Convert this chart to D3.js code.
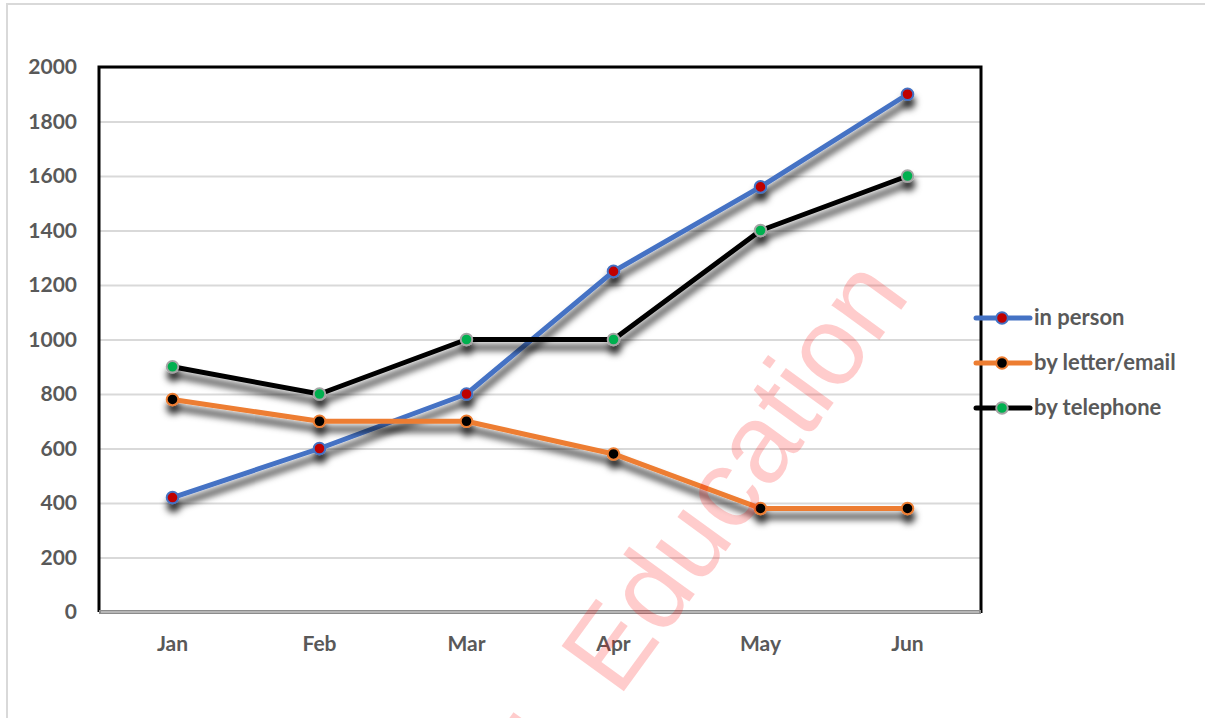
<!doctype html>
<meta charset="utf-8">
<style>
  body { margin: 0; background: #fff; }
  svg { display: block; }
  .tick text, .lbl { font-family: Lato, "Open Sans", sans-serif; font-weight: bold; fill: #595959; }
</style>
<svg id="chart" width="1205" height="718"></svg>
<script src="https://d3js.org/d3.v7.min.js"></script>
<script>
  const months = ["Jan", "Feb", "Mar", "Apr", "May", "Jun"];
  const yTicks = [0, 200, 400, 600, 800, 1000, 1200, 1400, 1600, 1800, 2000];
  const inPerson = [420, 600, 800, 1250, 1560, 1900];
  const letterEmail = [780, 700, 700, 580, 380, 380];
  const telephone = [900, 800, 1000, 1000, 1400, 1600];
  const seriesNames = ["in person", "by letter/email", "by telephone"];

  const series = [
    { name: seriesNames[0], values: inPerson, line: "#4472c4", fill: "#c00000", ring: "#4472c4" },
    { name: seriesNames[1], values: letterEmail, line: "#ed7d31", fill: "#000000", ring: "#ed7d31" },
    { name: seriesNames[2], values: telephone, line: "#000000", fill: "#00b050", ring: "#a5a5a5" }
  ];

  const svg = d3.select("#chart");
  const plotL = 99, plotR = 981, plotT = 67, plotB = 612;

  const x = d3.scaleBand().domain(months).range([plotL, plotR]);
  const y = d3.scaleLinear().domain([0, 2000]).range([plotB, plotT]);

  // outer light border
  svg.append("path").attr("d", "M7,718 V4 H1205")
    .attr("fill", "none").attr("stroke", "#d9d9d9").attr("stroke-width", 2);

  const defs = svg.append("defs");
  defs.append("filter").attr("id", "shadow")
    .attr("x", "-10%").attr("y", "-10%").attr("width", "120%").attr("height", "130%")
    .append("feDropShadow")
    .attr("dx", 1).attr("dy", 8).attr("stdDeviation", 3.5)
    .attr("flood-color", "#000").attr("flood-opacity", 0.85);

  // gridlines
  svg.append("g")
    .attr("transform", `translate(${plotL},0)`)
    .call(d3.axisLeft(y).tickValues(yTicks).tickSize(-(plotR - plotL)).tickFormat(""))
    .call(g => g.select(".domain").remove())
    .call(g => g.selectAll("line").attr("stroke", "#d9d9d9").attr("stroke-width", 2));

  // y labels
  svg.append("g")
    .attr("transform", `translate(${plotL},0)`)
    .call(d3.axisLeft(y).tickValues(yTicks).tickSize(0).tickPadding(22).tickFormat(d3.format("d")))
    .call(g => g.select(".domain").remove())
    .call(g => g.selectAll("text").style("font-size", "21px"));

  // x labels
  svg.append("g")
    .attr("transform", `translate(0,${plotB})`)
    .call(d3.axisBottom(x).tickSize(0).tickPadding(24))
    .call(g => g.select(".domain").remove())
    .call(g => g.selectAll("text").style("font-size", "21px"));

  // frame
  svg.append("path")
    .attr("d", `M${plotL},${plotB} V${plotT} H${plotR} V${plotB + 1}`)
    .attr("fill", "none").attr("stroke", "#000").attr("stroke-width", 3);

  // x axis double line
  svg.append("line").attr("x1", plotL).attr("x2", plotR).attr("y1", plotB).attr("y2", plotB)
    .attr("stroke", "#8c8c8c").attr("stroke-width", 4);
  svg.append("line").attr("x1", plotL + 2).attr("x2", plotR - 2).attr("y1", plotB).attr("y2", plotB)
    .attr("stroke", "#e0e0e0").attr("stroke-width", 1.2);

  const line = d3.line()
    .x((d, i) => x(months[i]) + x.bandwidth() / 2)
    .y(d => y(d));

  series.forEach(s => {
    const g = svg.append("g").attr("filter", "url(#shadow)");
    g.append("path").datum(s.values)
      .attr("d", line)
      .attr("fill", "none").attr("stroke", s.line).attr("stroke-width", 5)
      .attr("stroke-linejoin", "round");
    g.selectAll("circle").data(s.values).join("circle")
      .attr("cx", (d, i) => x(months[i]) + x.bandwidth() / 2)
      .attr("cy", d => y(d))
      .attr("r", 5.8)
      .attr("fill", s.fill).attr("stroke", s.ring).attr("stroke-width", 2);
  });

  // watermark
  const wm = svg.append("g")
    .attr("transform", "translate(622,694) rotate(-54)")
    .style("font-family", "'Liberation Sans', Arial, sans-serif")
    .style("font-size", "112px")
    .attr("fill", "#ff0000").attr("fill-opacity", 0.2);
  wm.append("text").attr("x", -6).text("Education");
  wm.append("text").attr("x", -36).attr("text-anchor", "end").text("L");

  // legend
  const legend = svg.append("g");
  series.forEach((s, i) => {
    const ly = 318 + i * 45;
    legend.append("line").attr("x1", 976).attr("x2", 1030).attr("y1", ly).attr("y2", ly)
      .attr("stroke", s.line).attr("stroke-width", 5).attr("stroke-linecap", "round");
    legend.append("circle").attr("cx", 1002).attr("cy", ly).attr("r", 5.8)
      .attr("fill", s.fill).attr("stroke", s.ring).attr("stroke-width", 2);
    legend.append("text").attr("class", "lbl").attr("x", 1034).attr("y", ly + 7)
      .style("font-size", "22px").text(s.name);
  });
</script>
